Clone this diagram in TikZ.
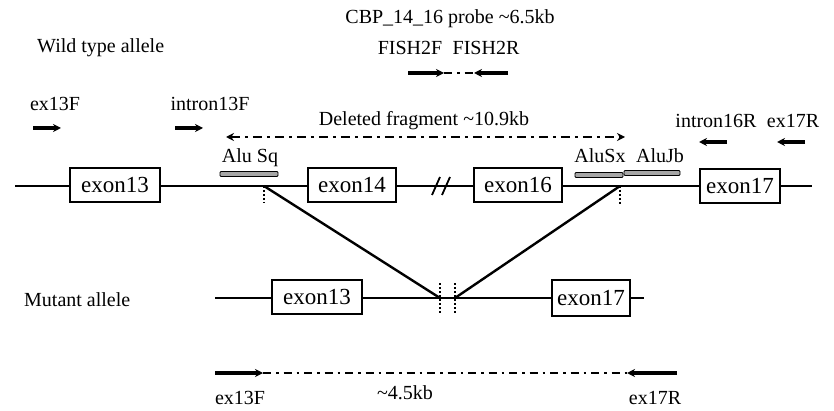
\documentclass[tikz,border=0pt]{standalone}
\usepackage{fontspec}
\setmainfont{Liberation Serif}
\usetikzlibrary{arrows.meta}
\begin{document}
\begin{tikzpicture}[x=1pt,y=-1pt,
  lbl/.style={font=\fontsize{20}{22}\selectfont, inner sep=0pt},
  exonbox/.style={draw, line width=2.5pt, fill=white, minimum height=34pt, inner sep=0pt, font=\fontsize{23}{25}\selectfont},
  dna/.style={line width=2.2pt},
  primer/.style={line width=3.6pt, -{Stealth[length=8pt,width=8pt]}},
  ddash/.style={line width=2.2pt, dash pattern=on 8pt off 5pt on 2.5pt off 5pt},
  alu/.style={draw, line width=0.8pt, fill=gray!70, rounded corners=1pt, minimum height=5pt, inner sep=0pt},
  cut/.style={line width=2pt, dash pattern=on 2pt off 2pt},
  dline/.style={line width=2.4pt}
]
\useasboundingbox (0,0) rectangle (834,411);

% titles
\node[lbl] (cbp) at (450,19) {CBP\_14\_16 probe \textasciitilde 6.5kb};
\node[lbl, anchor=west] (wt) at (37,48) {Wild type allele};
\node[lbl] (f2f) at (410,48) {FISH2F};
\node[lbl] (f2r) at (486,48) {FISH2R};
\node[lbl] (e13fl) at (55,104) {ex13F};
\node[lbl] (i13fl) at (210,104) {intron13F};
\node[lbl] (delf) at (424,121) {Deleted fragment \textasciitilde 10.9kb};
\node[lbl] (i16rl) at (716,121) {intron16R};
\node[lbl] (e17rl) at (793,121) {ex17R};

% FISH primers
\coordinate (fa) at (408,73); \coordinate (fb) at (444,73);
\coordinate (fc) at (508,73); \coordinate (fd) at (474,73);
\draw[primer] (fa) -- (fb);
\draw[ddash] (fb) -- (fd);
\draw[primer] (fc) -- (fd);

% primers
\coordinate (p1a) at (33,128); \coordinate (p1b) at (61,128);
\draw[primer] (p1a) -- (p1b);
\coordinate (p2a) at (175,128); \coordinate (p2b) at (203,128);
\draw[primer] (p2a) -- (p2b);
\coordinate (p3a) at (727,142); \coordinate (p3b) at (699,142);
\draw[primer] (p3a) -- (p3b);
\coordinate (p4a) at (805,142); \coordinate (p4b) at (777,142);
\draw[primer] (p4a) -- (p4b);

% deleted fragment
\coordinate (dfa) at (226,137); \coordinate (dfb) at (625,137);
\draw[ddash, dash pattern=on 9pt off 5pt on 3pt off 5pt, {Stealth[length=8pt,width=8pt]}-{Stealth[length=8pt,width=8pt]}] (dfa) -- (dfb);

% wild type allele
\coordinate (wl) at (15,186); \coordinate (wr) at (812,186);
\node[exonbox, minimum width=90pt] (x13) at (115,185) {exon13};
\node[exonbox, minimum width=88pt] (x14) at (352,185) {exon14};
\node[exonbox, minimum width=88pt] (x16) at (518,185) {exon16};
\node[exonbox, minimum width=80pt] (x17) at (740,186) {exon17};
\draw[dna] (wl) -- (x13.west |- wl);
\draw[dna] (x13.east |- wl) -- (x14.west |- wl);
\draw[dna] (x14.east |- wl) -- (x16.west |- wl);
\draw[dna] (x16.east |- wl) -- (x17.west |- wl);
\draw[dna] (x17.east |- wl) -- (wr);
% break mark
\coordinate (br1) at (436,186); \coordinate (br2) at (446,186);
\draw[line width=1.8pt] ([shift={(-4,9)}]br1) -- ([shift={(4,-9)}]br1);
\draw[line width=1.8pt] ([shift={(-4,9)}]br2) -- ([shift={(4,-9)}]br2);

% Alu elements
\node[lbl] (asq) at (250,158) {Alu Sq};
\node[alu, minimum width=58pt] (asqb) at (249,174) {};
\node[lbl] (asx) at (600,156) {AluSx};
\node[alu, minimum width=48pt] (asxb) at (599,175) {};
\node[lbl] (ajb) at (660,156) {AluJb};
\node[alu, minimum width=56pt] (ajbb) at (652,173) {};

% breakpoints
\coordinate (bp1) at (264,186); \coordinate (bp1b) at (264,203);
\coordinate (bp2) at (620,186); \coordinate (bp2b) at (620,205);
\draw[cut] (bp1) -- (bp1b);
\draw[cut] (bp2) -- (bp2b);

% mutant allele
\node[lbl, anchor=west] (mt) at (24,300) {Mutant allele};
\coordinate (ml) at (215,298); \coordinate (mr) at (644,298);
\node[exonbox, minimum width=90pt] (m13) at (317,297) {exon13};
\node[exonbox, minimum width=78pt, minimum height=36pt] (m17) at (591,298) {exon17};
\draw[dna] (ml) -- (m13.west |- ml);
\draw[dna] (m13.east |- ml) -- (m17.west |- ml);
\draw[dna] (m17.east |- ml) -- (mr);
\coordinate (j1) at (440,298); \coordinate (j2) at (455,298);
\draw[cut] (440,283) -- (440,314);
\draw[cut] (455,283) -- (455,314);

% deletion lines
\draw[dline] (bp1) -- (j1);
\draw[dline] (bp2) -- (j2);

% bottom PCR product
\coordinate (ba) at (215,373); \coordinate (bb) at (263,373);
\coordinate (bc) at (677,373); \coordinate (bd) at (627,373);
\draw[primer] (ba) -- (bb);
\draw[ddash] (bb) -- (bd);
\draw[primer] (bc) -- (bd);
\node[lbl] (e13fb) at (240,398) {ex13F};
\node[lbl] (kb45) at (405,393) {\textasciitilde 4.5kb};
\node[lbl] (e17rb) at (655,398) {ex17R};
\end{tikzpicture}
\end{document}
